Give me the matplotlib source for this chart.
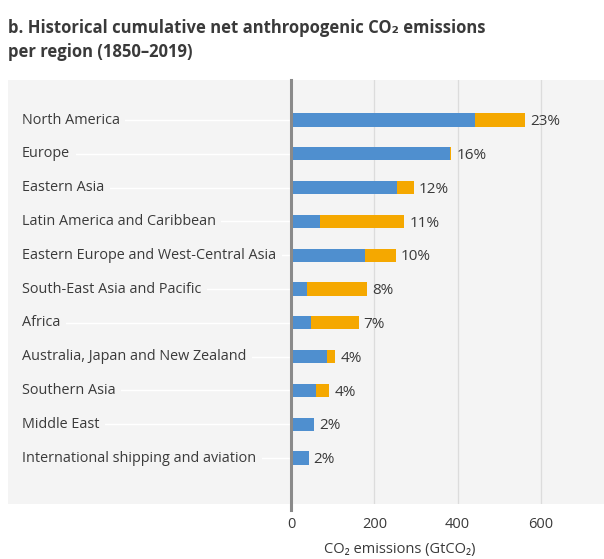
import matplotlib
matplotlib.use("Agg")
import matplotlib.pyplot as plt

regions = [
    "North America",
    "Europe",
    "Eastern Asia",
    "Latin America and Caribbean",
    "Eastern Europe and West-Central Asia",
    "South-East Asia and Pacific",
    "Africa",
    "Australia, Japan and New Zealand",
    "Southern Asia",
    "Middle East",
    "International shipping and aviation",
]
# Fossil fuel and industry (blue) and land use, land-use change and forestry (orange), GtCO2
fossil = [441, 382, 254, 70, 178, 38, 48, 87, 60, 56, 42]
landuse = [121, 3, 41, 202, 73, 145, 114, 19, 32, 0, 0]
shares = ["23%", "16%", "12%", "11%", "10%", "8%", "7%", "4%", "4%", "2%", "2%"]
xticks = [0, 200, 400, 600]

BLUE = "#4f8fcf"
ORANGE = "#f5a800"
PANEL = "#f4f4f4"
TEXT = "#3a3a3a"
FONT = ["Open Sans", "DejaVu Sans"]

plt.rcParams["font.family"] = FONT

fig = plt.figure(figsize=(6.04, 5.59), dpi=100)
W, H = 604, 559

left_px, right_px, top_px, bot_px = 8, 604, 80, 504
ax = fig.add_axes([left_px / W, 1 - bot_px / H, (right_px - left_px) / W, (bot_px - top_px) / H])
ax.set_facecolor(PANEL)

scale = 250 / 600  # pixels per GtCO2
x0_px = 291
ax.set_xlim((left_px - x0_px) / scale, (right_px - x0_px) / scale)
row0, step = 120, 33.8
ax.set_ylim(10 + (bot_px - (row0 + 10 * step)) / step, -(row0 - top_px) / step)

for s in ax.spines.values():
    s.set_visible(False)
ax.set_yticks([])
ax.set_xticks(xticks)
ax.set_xticklabels([str(t) for t in xticks], fontsize=10.5, color=TEXT)
ax.tick_params(axis="x", length=0, pad=9)

for t in xticks[1:]:
    ax.axvline(t, color="#dcdcdc", lw=0.9, zorder=1)

label_x = (22 - x0_px) / scale
ys = list(range(len(regions)))
for y, name in zip(ys, regions):
    ax.plot([label_x, 0], [y, y], color="white", lw=1.0, zorder=1)
    ax.text(label_x, y, name, fontsize=10.4, color=TEXT, va="center", ha="left",
            zorder=2, bbox=dict(facecolor=PANEL, edgecolor="none", pad=4))

bh = 0.39
ax.barh(ys, fossil, height=bh, color=BLUE, zorder=3)
ax.barh(ys, landuse, left=fossil, height=bh, color=ORANGE, zorder=3)
for y, f, l, s in zip(ys, fossil, landuse, shares):
    ax.text(f + l + 12, y + 0.05, s, fontsize=11, color=TEXT, va="center", ha="left", zorder=4)

ax.axvline(0, ymin=-0.015, ymax=1, color="#8a8a8a", lw=2.2, zorder=5, clip_on=False)

fig.text(400 / W, 1 - 550 / H, "CO\u2082 emissions (GtCO\u2082)", fontsize=10.5, color=TEXT,
         ha="center", va="center")

title_lines = ["b. Historical cumulative net anthropogenic CO\u2082 emissions",
               "per region (1850\u20132019)"]
for i, line in enumerate(title_lines):
    fig.text(8 / W, 1 - (33 + 24 * i) / H, line, fontsize=12, fontweight="bold",
             color=TEXT, ha="left", va="baseline")

fig.savefig("out.png", dpi=100, facecolor="white")
